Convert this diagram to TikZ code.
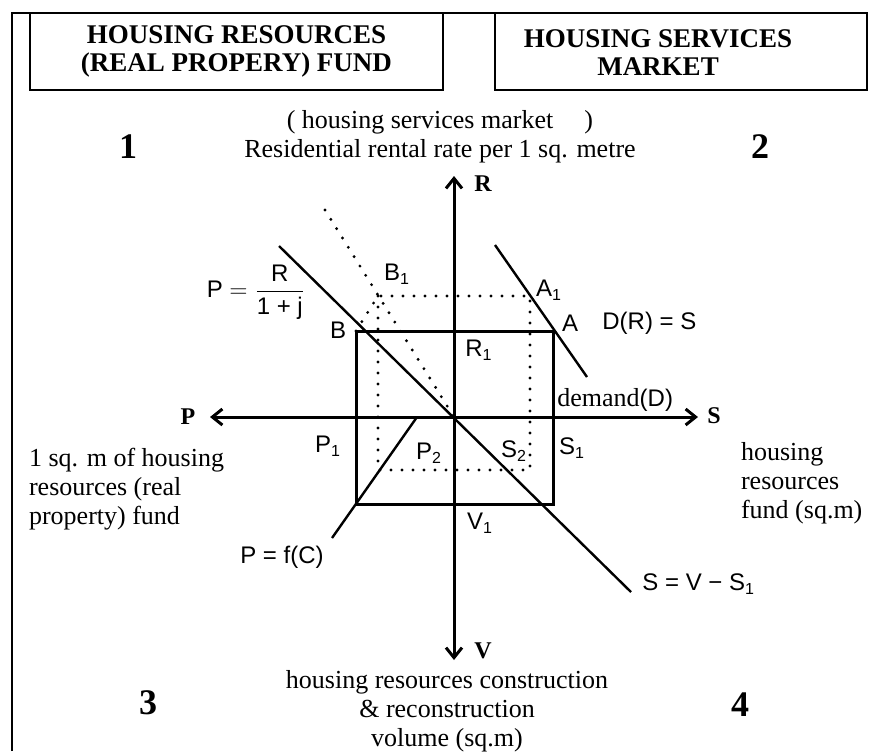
\documentclass[tikz,border=0pt]{standalone}
\usepackage{amsmath}
\usepackage{fontspec}
\setmainfont{Liberation Serif}
\setsansfont{Liberation Sans}
\usetikzlibrary{arrows.meta,positioning,calc}

\begin{document}
\begin{tikzpicture}[
    x=0.5pt, y=-0.5pt,
    titlebox/.style={draw, line width=1pt, inner sep=0pt, minimum height=38.5pt},
    titletext/.style={font=\fontsize{13.5}{14}\selectfont\bfseries, align=center},
    quadrant/.style={font=\fontsize{18}{18}\selectfont\bfseries},
    axis/.style={line width=1.5pt, -{Straight Barb[length=5pt,width=8pt]}},
    axislabel/.style={font=\fontsize{12}{12}\selectfont\bfseries},
    caption/.style={font=\fontsize{13}{14.5}\selectfont, align=center},
    ptlabel/.style={font=\sffamily\fontsize{12}{12}\selectfont, inner sep=1pt},
    solidline/.style={line width=1.2pt},
    boxline/.style={line width=1.5pt},
    dots/.style={line width=1.6pt, line cap=round, dash pattern=on 0pt off 5.5pt}
]
\useasboundingbox (0,0) rectangle (870,751);

% Frame
\draw[line width=1.2pt] (12,751) -- (12,13) -- (867,13);

% Title boxes
\node [titlebox, minimum width=206.5pt, titletext] (fundbox) at (236.5,51.5) {HOUSING RESOURCES\\(REAL PROPERY) FUND};
\node [titlebox, minimum width=186pt] (marketbox) at (681,51.5) {};
\node [titletext] (markettext) at (658,53) {HOUSING SERVICES\\MARKET};

% Quadrant numbers
\node [quadrant] (q1) at (128,147) {1};
\node [quadrant] (q2) at (760,147) {2};
\node [quadrant] (q3) at (148,703) {3};
\node [quadrant] (q4) at (740,705) {4};

% Axes
\coordinate (O) at (454,417);
\coordinate (Rend) at (454,176);
\coordinate (Vend) at (454,660);
\coordinate (Pend) at (210,417);
\coordinate (Send) at (698,417);
\draw [axis] (O) -- (Rend);
\draw [axis] (O) -- (Vend);
\draw [axis] (O) -- (Pend);
\draw [axis] (O) -- (Send);
\node [axislabel] (Rlab) at (483,184) {R};
\node [axislabel] (Vlab) at (483,651) {V};
\node [axislabel] (Plab) at (188,417) {P};
\node [axislabel] (Slab) at (714,416) {S};

% Axis captions
\node [caption] (rent) at (440,137) {(\ housing services market\hspace{1.2em})\\Residential rental rate per 1 sq. metre};
\node [caption, anchor=west, align=left] (fundleft) at (22,489) {1 sq. m of housing\\resources (real\\property) fund};
\node [caption, anchor=west, align=left] (fundright) at (734,483) {housing\\resources\\fund (sq.m)};
\node [caption] (volume) at (447,711) {housing resources construction\\\& reconstruction\\volume (sq.m)};

% Rectangles
\coordinate (B) at (356,331);
\coordinate (A) at (553,331);
\coordinate (C) at (356,504);
\coordinate (D) at (553,504);
\coordinate (B1) at (378,296);
\coordinate (A1) at (530,296);
\coordinate (D1) at (530,470);
\draw [boxline] (B) rectangle (D);
\draw [dots] (B1) rectangle (D1);
\draw [dots] (B) -- (B1);

% Lines
\coordinate (pricetop) at (279,246);
\coordinate (stockend) at (631,592);
\coordinate (dottop) at (325,210);
\coordinate (demtop) at (495,245);
\coordinate (dembot) at (587,377);
\coordinate (costax) at (417,417);
\coordinate (costend) at (332,538);
\draw [solidline] (pricetop) -- (stockend);
\draw [dots] (dottop) -- (O);
\draw [solidline] (demtop) -- (dembot);
\draw [solidline] (costax) -- (costend);

% Point labels
\node [ptlabel] (Blab) at (338,330) {B};
\node [ptlabel] (B1lab) at (397,274) {B\textsubscript{1}};
\node [ptlabel] (A1lab) at (549,290) {A\textsubscript{1}};
\node [ptlabel] (Alab) at (570,323) {A};
\node [ptlabel] (R1lab) at (479,350) {R\textsubscript{1}};
\node [ptlabel] (P1lab) at (328,446) {P\textsubscript{1}};
\node [ptlabel] (P2lab) at (429,453) {P\textsubscript{2}};
\node [ptlabel] (S2lab) at (514,451) {S\textsubscript{2}};
\node [ptlabel] (S1lab) at (572,448) {S\textsubscript{1}};
\node [ptlabel] (V1lab) at (480,523) {V\textsubscript{1}};

% Function labels
\node [ptlabel] (pricelab) at (256,292) {$\textsf{P}=\dfrac{\textsf{R}}{\textsf{1 + j}}$};
\node [ptlabel, anchor=west] (demlab) at (600,323) {D(R) = S};
\node [ptlabel, anchor=west] (demand) at (555,400) {{\rmfamily\fontsize{13}{13}\selectfont demand}(D)};
\node [ptlabel] (costlab) at (282,557) {P = f(C)};
\node [ptlabel, anchor=west] (stocklab) at (640,584) {S = V − S\textsubscript{1}};

\end{tikzpicture}
\end{document}
